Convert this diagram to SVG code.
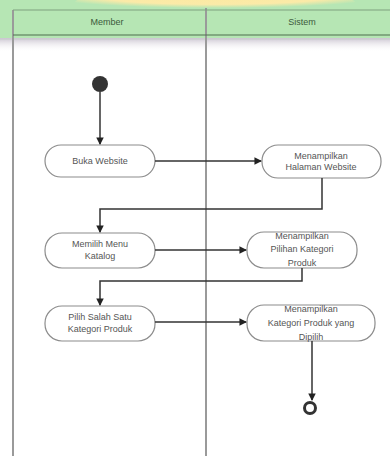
<svg xmlns="http://www.w3.org/2000/svg" width="390" height="456" viewBox="0 0 390 456">
<defs>
<style>
.lane{stroke:#9a9a9a;stroke-width:2;fill:none}
.node rect{fill:#fff;stroke:#8c8c8c;stroke-width:1.2}
.node text{font-family:"Liberation Sans",Arial,sans-serif;font-size:9px;fill:#555;text-anchor:middle}
.hd{font-family:"Liberation Sans",Arial,sans-serif;font-size:9px;fill:#3c5a3c;text-anchor:middle}
.conn path{fill:none;stroke:#333;stroke-width:1.5;marker-end:url(#ah)}
</style>
<marker id="ah" viewBox="0 0 8 8" refX="7" refY="4" markerWidth="5" markerHeight="5" orient="auto">
<path d="M0,0 L8,4 L0,8 z" fill="#222"/>
</marker>
<radialGradient id="yb" cx="0.5" cy="0.2" r="0.6">
<stop offset="0" stop-color="#fde9a0"/>
<stop offset="0.7" stop-color="#fbeaa8"/>
<stop offset="1" stop-color="#fbeaa8" stop-opacity="0"/>
</radialGradient>
<linearGradient id="sh" x1="0" y1="0" x2="0" y2="1">
<stop offset="0" stop-color="#cbc5d1"/>
<stop offset="1" stop-color="#fff" stop-opacity="0"/>
</linearGradient>
</defs>
<rect width="390" height="456" fill="#fff"/>
<g id="header-bg">
<rect x="0" y="0" width="390" height="40" fill="#b6e6b4"/>
<ellipse cx="215" cy="2" rx="140" ry="10" fill="url(#yb)"/>
<rect x="0" y="38" width="390" height="14" fill="url(#sh)"/>
</g>
<g id="lanes">
<line class="lane" x1="13" y1="10" x2="13" y2="456"/>
<line class="lane" x1="206" y1="8" x2="206" y2="456"/>
<line x1="13" y1="10" x2="390" y2="10" stroke="#7fa07f" stroke-width="1"/>
<line x1="13" y1="35" x2="390" y2="35" stroke="#4f6f4f" stroke-width="1.2"/>
<text class="hd" x="107" y="25">Member</text>
<text class="hd" x="302" y="25">Sistem</text>
</g>
<g id="start"><circle cx="100" cy="84" r="8" fill="#333"/></g>
<g id="end"><circle cx="310" cy="408" r="5.5" fill="#fff" stroke="#333" stroke-width="3"/></g>
<g id="n1" class="node"><rect x="45" y="145" width="110" height="32" rx="16"/><text x="100" y="164">Buka Website</text></g>
<g id="n2" class="node"><rect x="262" y="145" width="119" height="33" rx="16"/><text x="321" y="159">Menampilkan</text><text x="321" y="170">Halaman Website</text></g>
<g id="n3" class="node"><rect x="45" y="233" width="110" height="35" rx="17"/><text x="100" y="247">Memilih Menu</text><text x="100" y="259">Katalog</text></g>
<g id="n4" class="node"><rect x="247" y="232" width="110" height="36" rx="17"/><text x="302" y="239">Menampilkan</text><text x="302" y="252">Pilihan Kategori</text><text x="302" y="266">Produk</text></g>
<g id="n5" class="node"><rect x="45" y="306" width="110" height="35" rx="17"/><text x="100" y="320">Pilih Salah Satu</text><text x="100" y="332">Kategori Produk</text></g>
<g id="n6" class="node"><rect x="247" y="305" width="128" height="36" rx="17"/><text x="311" y="312">Menampilkan</text><text x="311" y="326">Kategori Produk yang</text><text x="311" y="340">Dipilih</text></g>
<g id="connectors" class="conn">
<path d="M100,92 V144"/>
<path d="M155,161 H261"/>
<path d="M322,178 V209 H100 V232"/>
<path d="M155,250 H246"/>
<path d="M302,268 V281 H100 V305"/>
<path d="M155,322 H246"/>
<path d="M312,341 V400"/>
</g>
</svg>
